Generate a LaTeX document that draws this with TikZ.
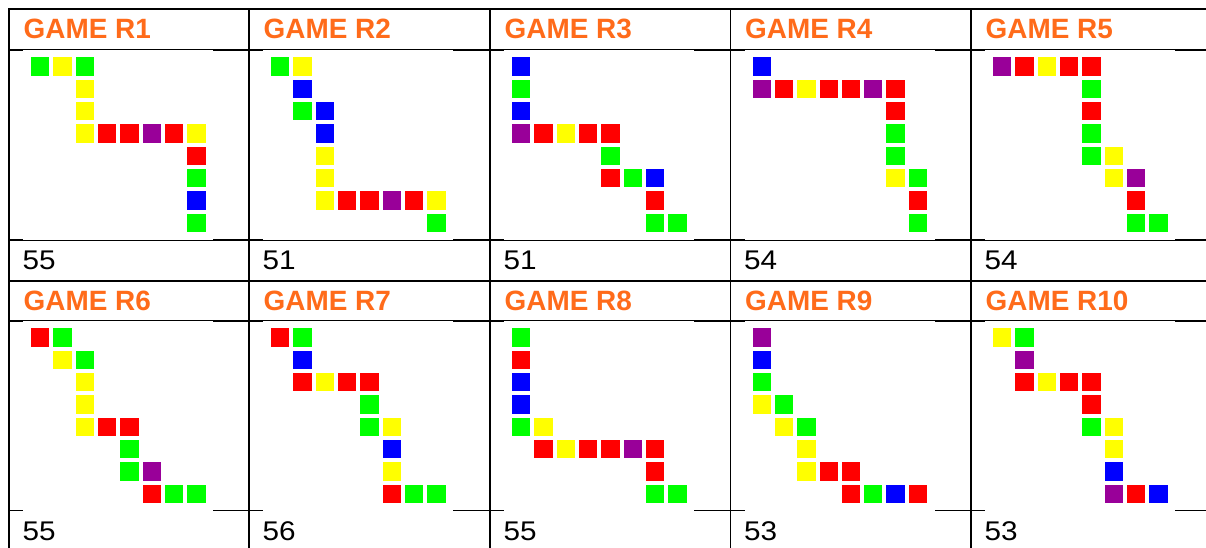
\documentclass[tikz,border=0pt]{standalone}
\usepackage{fontspec}
\setmainfont{Liberation Sans}
\newfontfamily\numfont[FakeStretch=1.1]{Liberation Sans}
\definecolor{gO}{HTML}{FF6B1A}
\definecolor{gG}{HTML}{00FF00}
\definecolor{gY}{HTML}{FFFF00}
\definecolor{gB}{HTML}{0000FF}
\definecolor{gR}{HTML}{FF0000}
\definecolor{gP}{HTML}{990099}
\newcommand\gpanel[3]{% #1 col left, #2 pic top, #3 squares
  \fill[white] (#1+14,#2) rectangle (#1+204,#2+190);
  \foreach \ca/\ra/\ka in {#3} {
    \fill[g\ka] ({#1+22+\ca*22.33},{#2+7.3+\ra*22.33}) rectangle ++(18.33,18.33);
  }%
}
\begin{document}
\begin{tikzpicture}[x=1pt,y=-1pt,
  hdr/.style={anchor=base west,inner sep=0pt,text=gO,font=\bfseries\fontsize{27.9}{30}\selectfont},
  num/.style={anchor=base west,inner sep=0pt,text=black,font=\numfont\fontsize{27}{30}\selectfont},
  grid/.style={line width=1.3pt,black}]
\useasboundingbox (0,0) rectangle (1206,548);
\fill[white] (0,0) rectangle (1206,548);
% table lines
\foreach \yy in {9,50,240,281,321,510.3} \draw[grid] (8.35,\yy) -- (1206,\yy);
\foreach \xx in {9,249,490,730.5,971} \draw[grid] (\xx,8.35) -- (\xx,548);
% panels row 1
\gpanel{9}{50}{0/0/G,1/0/Y,2/0/G,2/1/Y,2/2/Y,2/3/Y,3/3/R,4/3/R,5/3/P,6/3/R,7/3/Y,7/4/R,7/5/G,7/6/B,7/7/G}
\gpanel{249}{50}{0/0/G,1/0/Y,1/1/B,1/2/G,2/2/B,2/3/B,2/4/Y,2/5/Y,2/6/Y,3/6/R,4/6/R,5/6/P,6/6/R,7/6/Y,7/7/G}
\gpanel{490}{50}{0/0/B,0/1/G,0/2/B,0/3/P,1/3/R,2/3/Y,3/3/R,4/3/R,4/4/G,4/5/R,5/5/G,6/5/B,6/6/R,6/7/G,7/7/G}
\gpanel{730.5}{50}{0/0/B,0/1/P,1/1/R,2/1/Y,3/1/R,4/1/R,5/1/P,6/1/R,6/2/R,6/3/G,6/4/G,6/5/Y,7/5/G,7/6/R,7/7/G}
\gpanel{971}{50}{0/0/P,1/0/R,2/0/Y,3/0/R,4/0/R,4/1/G,4/2/R,4/3/G,4/4/G,5/4/Y,5/5/Y,6/5/P,6/6/R,6/7/G,7/7/G}
% panels row 2
\gpanel{9}{321}{0/0/R,1/0/G,1/1/Y,2/1/G,2/2/Y,2/3/Y,2/4/Y,3/4/R,4/4/R,4/5/G,4/6/G,5/6/P,5/7/R,6/7/G,7/7/G}
\gpanel{249}{321}{0/0/R,1/0/G,1/1/B,1/2/R,2/2/Y,3/2/R,4/2/R,4/3/G,4/4/G,5/4/Y,5/5/B,5/6/Y,5/7/R,6/7/G,7/7/G}
\gpanel{490}{321}{0/0/G,0/1/R,0/2/B,0/3/B,0/4/G,1/4/Y,1/5/R,2/5/Y,3/5/R,4/5/R,5/5/P,6/5/R,6/6/R,6/7/G,7/7/G}
\gpanel{730.5}{321}{0/0/P,0/1/B,0/2/G,0/3/Y,1/3/G,1/4/Y,2/4/G,2/5/Y,2/6/Y,3/6/R,4/6/R,4/7/R,5/7/G,6/7/B,7/7/R}
\gpanel{971}{321}{0/0/Y,1/0/G,1/1/P,1/2/R,2/2/Y,3/2/R,4/2/R,4/3/R,4/4/G,5/4/Y,5/5/Y,5/6/B,5/7/P,6/7/R,7/7/B}
% headers
\node[hdr] (h1) at (23.5,39) {GAME R1};
\node[hdr] (h2) at (263.5,39) {GAME R2};
\node[hdr] (h3) at (504.5,39) {GAME R3};
\node[hdr] (h4) at (745,39) {GAME R4};
\node[hdr] (h5) at (985.5,39) {GAME R5};
\node[hdr] (h6) at (23.5,310.2) {GAME R6};
\node[hdr] (h7) at (263.5,310.2) {GAME R7};
\node[hdr] (h8) at (504.5,310.2) {GAME R8};
\node[hdr] (h9) at (745,310.2) {GAME R9};
\node[hdr] (h10) at (985.5,310.2) {GAME R10};
% numbers
\node[num] (n1) at (22.5,269.7) {55};
\node[num] (n2) at (262.5,269.7) {51};
\node[num] (n3) at (503.5,269.7) {51};
\node[num] (n4) at (744,269.7) {54};
\node[num] (n5) at (984.5,269.7) {54};
\node[num] (n6) at (22.5,540.7) {55};
\node[num] (n7) at (262.5,540.7) {56};
\node[num] (n8) at (503.5,540.7) {55};
\node[num] (n9) at (744,540.7) {53};
\node[num] (n10) at (984.5,540.7) {53};
\end{tikzpicture}
\end{document}
